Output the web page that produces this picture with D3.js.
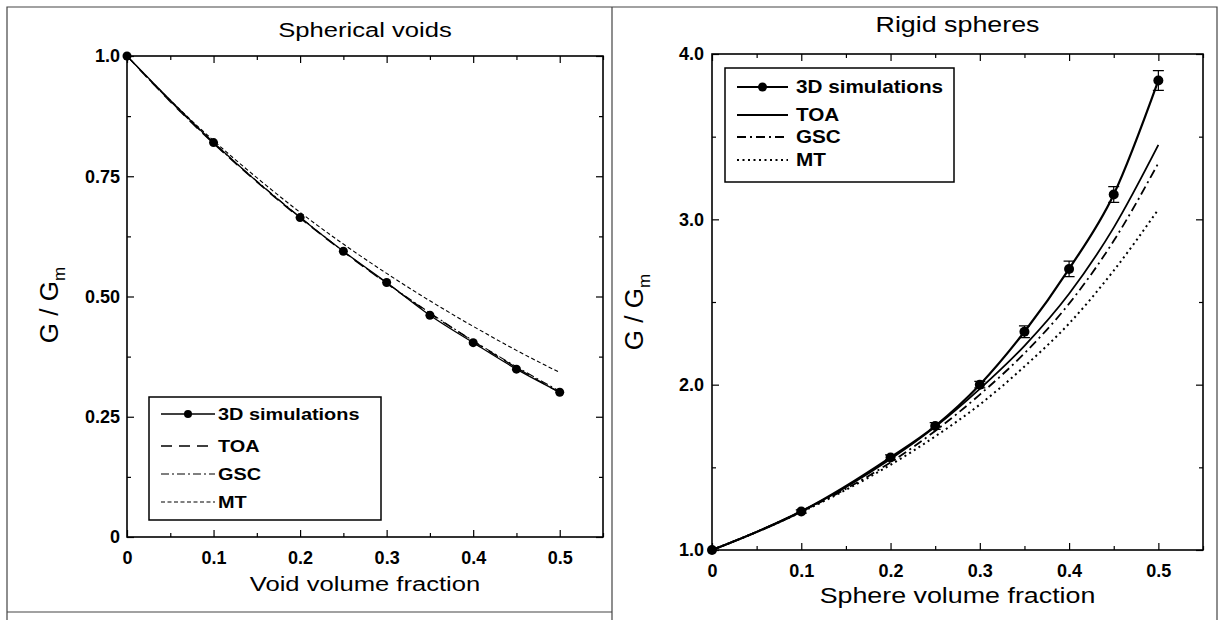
<!DOCTYPE html>
<html><head><meta charset="utf-8">
<script src="https://cdn.jsdelivr.net/npm/d3@7"></script>
<style>body{margin:0;background:#fff}svg{display:block}</style>
</head><body><svg id="c" width="1225" height="620"></svg>
<script>
// ---------- data ----------
const simX   = [0, 0.1, 0.2, 0.25, 0.3, 0.35, 0.4, 0.45, 0.5];
const curveX = [0, 0.05, 0.1, 0.15, 0.2, 0.25, 0.3, 0.35, 0.4, 0.45, 0.5];

const voidSim = [1.0, 0.820, 0.664, 0.594, 0.529, 0.461, 0.404, 0.349, 0.301];
const voidTOA = [1.0, 0.905, 0.818, 0.738, 0.663, 0.593, 0.527, 0.465, 0.407, 0.352, 0.300];
const voidGSC = [1.0, 0.906, 0.819, 0.740, 0.665, 0.594, 0.528, 0.466, 0.408, 0.354, 0.303];
const voidMT  = [1.0, 0.908, 0.824, 0.747, 0.675, 0.609, 0.548, 0.491, 0.438, 0.388, 0.342];

const sphSim  = [1.0, 1.233, 1.56, 1.75, 2.0, 2.32, 2.70, 3.15, 3.84];
const sphErr  = [0, 0.01, 0.015, 0.02, 0.02, 0.035, 0.047, 0.048, 0.06];
const sphTOA  = [1.0, 1.11, 1.235, 1.38, 1.55, 1.745, 1.975, 2.235, 2.55, 2.95, 3.45];
const sphGSC  = [1.0, 1.11, 1.232, 1.37, 1.53, 1.72, 1.94, 2.19, 2.49, 2.87, 3.34];
const sphMT   = [1.0, 1.109, 1.229, 1.364, 1.515, 1.687, 1.88, 2.11, 2.37, 2.69, 3.06];

const xTicks      = [0, 0.1, 0.2, 0.3, 0.4, 0.5];
const xTickLabels = ["0", "0.1", "0.2", "0.3", "0.4", "0.5"];
const xMinor      = [0.05, 0.15, 0.25, 0.35, 0.45, 0.55];
const voidYTicks  = [0, 0.25, 0.5, 0.75, 1.0];
const voidYLabels = ["0", "0.25", "0.50", "0.75", "1.0"];
const voidYMinor  = [0.125, 0.375, 0.625, 0.875];
const sphYTicks   = [1, 2, 3, 4];
const sphYLabels  = ["1.0", "2.0", "3.0", "4.0"];
const sphYMinor   = [1.5, 2.5, 3.5];
const legendNames = ["3D simulations", "TOA", "GSC", "MT"];

// ---------- drawing ----------
const FONT = '"Liberation Sans", Arial, Helvetica, sans-serif';
const svg = d3.select('#c');

// figure border
const border = svg.append('g').attr('stroke', '#444').attr('stroke-width', 1.2).attr('fill', 'none');
border.append('path').attr('d', 'M7,620 V7 H1217 V620');
border.append('path').attr('d', 'M7,612 H612');
border.append('path').attr('d', 'M612,7 V620');

function txt(g, s, x, y, o) {
  const t = g.append('text').attr('transform', `translate(${x},${y}) scale(${o.sx || 1},1)`)
    .attr('font-family', FONT).attr('font-size', o.size).attr('font-weight', o.weight || 'normal')
    .attr('text-anchor', o.anchor || 'start').attr('fill', '#000').text(s);
  return t;
}

function panel(p) {
  const xs = d3.scaleLinear().domain([0, 0.55]).range([p.x0, p.x1]);
  const ys = d3.scaleLinear().domain(p.yDom).range([p.y1, p.y0]);
  const g = svg.append('g');

  const styleAxis = a => {
    a.select('.domain').remove();
    a.selectAll('line').attr('stroke', '#000').attr('stroke-width', 1.2);
    a.selectAll('text').attr('font-family', FONT).attr('font-size', 18).attr('font-weight', 'bold').attr('fill', '#000');
  };
  // bottom
  g.append('g').attr('transform', `translate(0,${p.y1})`)
    .call(d3.axisBottom(xs).tickValues(xTicks).tickSize(-7).tickPadding(14).tickFormat((d, i) => xTickLabels[i])).call(styleAxis);
  g.append('g').attr('transform', `translate(0,${p.y1})`)
    .call(d3.axisBottom(xs).tickValues(xMinor).tickSize(-4).tickFormat('')).call(styleAxis);
  // top
  g.append('g').attr('transform', `translate(0,${p.y0})`)
    .call(d3.axisTop(xs).tickValues(xTicks).tickSize(-7).tickFormat('')).call(styleAxis);
  g.append('g').attr('transform', `translate(0,${p.y0})`)
    .call(d3.axisTop(xs).tickValues(xMinor).tickSize(-4).tickFormat('')).call(styleAxis);
  // left
  g.append('g').attr('transform', `translate(${p.x0},0)`)
    .call(d3.axisLeft(ys).tickValues(p.yTicks).tickSize(-7).tickPadding(p.yPad).tickFormat((d, i) => p.yLabels[i])).call(styleAxis);
  g.append('g').attr('transform', `translate(${p.x0},0)`)
    .call(d3.axisLeft(ys).tickValues(p.yMinor).tickSize(-4).tickFormat('')).call(styleAxis);
  // right
  g.append('g').attr('transform', `translate(${p.x1},0)`)
    .call(d3.axisRight(ys).tickValues(p.yTicks).tickSize(-7).tickFormat('')).call(styleAxis);
  g.append('g').attr('transform', `translate(${p.x1},0)`)
    .call(d3.axisRight(ys).tickValues(p.yMinor).tickSize(-4).tickFormat('')).call(styleAxis);

  // frame
  g.append('rect').attr('x', p.x0).attr('y', p.y0).attr('width', p.x1 - p.x0).attr('height', p.y1 - p.y0)
    .attr('fill', 'none').attr('stroke', '#000').attr('stroke-width', 1.6);

  const line = d3.line().x(d => xs(d[0])).y(d => ys(d[1])).curve(d3.curveMonotoneX);
  p.series.forEach(s => {
    const pts = s.x.map((x, i) => [x, s.y[i]]);
    g.append('path').attr('d', line(pts)).attr('fill', 'none').attr('stroke', '#000')
      .attr('stroke-width', s.w).attr('stroke-dasharray', s.dash || null);
  });
  // error bars
  if (p.err) {
    simX.forEach((x, i) => {
      const e = p.err[i]; if (!e) return;
      const cx = xs(x), a = ys(p.simY[i] - e), b = ys(p.simY[i] + e);
      g.append('path').attr('d', `M${cx},${a}V${b}M${cx - 5.5},${a}H${cx + 5.5}M${cx - 5.5},${b}H${cx + 5.5}`)
        .attr('stroke', '#000').attr('stroke-width', 1.2).attr('fill', 'none');
    });
  }
  g.selectAll('circle.sim').data(simX).enter().append('circle').attr('class', 'sim')
    .attr('cx', d => xs(d)).attr('cy', (d, i) => ys(p.simY[i])).attr('r', p.r).attr('fill', '#000');

  // legend
  const L = p.leg;
  g.append('rect').attr('x', L.x).attr('y', L.y).attr('width', L.w).attr('height', L.h)
    .attr('fill', '#fff').attr('stroke', '#000').attr('stroke-width', 1.5);
  p.series.slice().reverse().forEach((s, i) => {
    const yy = L.rows[i];
    g.append('path').attr('d', `M${L.l0},${yy}H${L.l1}`).attr('stroke', '#000')
      .attr('stroke-width', s.w).attr('stroke-dasharray', s.dash || null);
    if (i === 0) g.append('circle').attr('cx', (L.l0 + L.l1) / 2).attr('cy', yy).attr('r', p.r - 0.5).attr('fill', '#000');
    txt(g, legendNames[i], L.tx, yy + L.size * 0.36, {size: L.size, weight: 'bold', sx: L.sx});
  });

  // titles
  txt(g, p.title, (p.x0 + p.x1) / 2, p.titleY, {size: p.fs, anchor: 'middle', sx: 1.22});
  txt(g, p.xlabel, (p.x0 + p.x1) / 2, p.xlabY, {size: p.fs, anchor: 'middle', sx: 1.22});
  const yl = g.append('text').attr('transform', `translate(${p.ylabX},${p.ylabY}) rotate(-90)`)
    .attr('font-family', FONT).attr('font-size', 26).attr('text-anchor', 'middle').attr('fill', '#000');
  yl.append('tspan').text('G / G');
  yl.append('tspan').attr('font-size', 17).attr('dy', 7).text('m');
}

panel({
  x0: 127, x1: 603, y0: 56, y1: 537, yDom: [0, 1],
  yTicks: voidYTicks, yLabels: voidYLabels, yMinor: voidYMinor, yPad: 7,
  simY: voidSim, r: 4.5,
  series: [
    {x: curveX, y: voidMT, w: 1.1, dash: '4,2.5'},
    {x: curveX, y: voidGSC, w: 1.1, dash: '8,3,2,3'},
    {x: curveX, y: voidTOA, w: 1.3, dash: '11,7'},
    {x: simX, y: voidSim, w: 1.3}
  ],
  leg: {x: 149, y: 397, w: 232, h: 123, rows: [414, 446, 474, 502], l0: 161, l1: 215, tx: 218, size: 17, sx: 1.17},
  title: 'Spherical voids', titleY: 37, xlabel: 'Void volume fraction', xlabY: 591, fs: 21,
  ylabX: 58, ylabY: 305
});

panel({
  x0: 712, x1: 1203, y0: 54, y1: 550, yDom: [1, 4],
  yTicks: sphYTicks, yLabels: sphYLabels, yMinor: sphYMinor, yPad: 8,
  simY: sphSim, err: sphErr, r: 5,
  series: [
    {x: curveX, y: sphMT, w: 2, dash: '2,3.5'},
    {x: curveX, y: sphGSC, w: 1.8, dash: '9,4,2,4'},
    {x: curveX, y: sphTOA, w: 1.8},
    {x: simX, y: sphSim, w: 2.2}
  ],
  leg: {x: 725, y: 68, w: 229, h: 114, rows: [87, 115, 137, 160], l0: 737, l1: 788, tx: 796, size: 18, sx: 1.15},
  title: 'Rigid spheres', titleY: 32, xlabel: 'Sphere volume fraction', xlabY: 603, fs: 22,
  ylabX: 643, ylabY: 312
});
</script>
</body></html>
